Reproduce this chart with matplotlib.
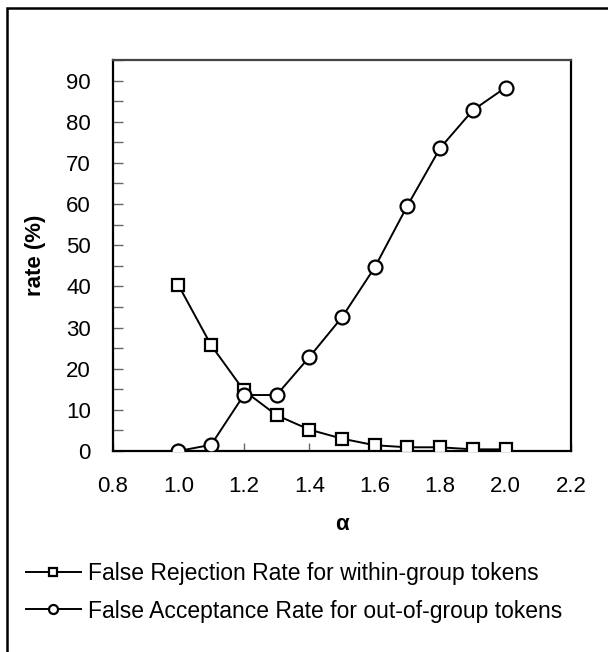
import matplotlib.pyplot as plt
from matplotlib.patches import Rectangle
from matplotlib.ticker import MultipleLocator

plt.rcParams['font.family'] = ['Liberation Sans', 'DejaVu Sans']

# Data
alpha = [1.0, 1.1, 1.2, 1.3, 1.4, 1.5, 1.6, 1.7, 1.8, 1.9, 2.0]
frr = [40.3, 25.7, 14.7, 8.7, 5.2, 3.0, 1.4, 0.9, 0.9, 0.4, 0.4]
far = [0.0, 1.5, 13.6, 13.6, 22.8, 32.5, 44.6, 59.6, 73.6, 82.8, 88.3]
labels = ['False Rejection Rate for within-group tokens',
          'False Acceptance Rate for out-of-group tokens']
xticks = [0.8, 1.0, 1.2, 1.4, 1.6, 1.8, 2.0, 2.2]

W, H = 608, 652
fig = plt.figure(figsize=(W / 100, H / 100), dpi=100)
ax = fig.add_axes([113 / W, 1 - 451 / H, (571 - 113) / W, (451 - 60) / H])

ax.plot(alpha, frr, color='black', linewidth=1.4, marker='s', markersize=9,
        markerfacecolor='white', markeredgecolor='black', markeredgewidth=1.6,
        label=labels[0], zorder=3)
ax.plot(alpha, far, color='black', linewidth=1.4, marker='o', markersize=10,
        markerfacecolor='white', markeredgecolor='black', markeredgewidth=1.6,
        label=labels[1], zorder=3)

ax.set_xlim(0.8, 2.2)
ax.set_ylim(0, 95)
ax.set_xticks(xticks)
ax.set_xticklabels([f'{v:.1f}' for v in xticks])
ax.set_yticks(range(0, 91, 10))
ax.yaxis.set_minor_locator(MultipleLocator(5))
ax.tick_params(axis='both', which='both', direction='in', labelsize=16,
               color='#666666', width=1, length=7)
ax.tick_params(axis='y', which='major', pad=16)
ax.tick_params(axis='x', which='major', pad=18, length=6)

for s in ax.spines.values():
    s.set_linewidth(1.6)
    s.set_color('black')
ax.spines['top'].set_color('#444444')

ax.set_xlabel('α', fontsize=16, fontweight='bold', labelpad=12)
ax.set_ylabel('rate (%)', fontsize=16, fontweight='bold', labelpad=14)

# legend below the plot, no frame
fig.legend(loc='upper left', bbox_to_anchor=(5 / W, 1 - 541 / H),
           frameon=False, fontsize=16.5, handlelength=2.4,
           handletextpad=0.3, markerscale=0.65, labelspacing=0.65)

# outer border of the figure (only left and top visible in the reference)
fig.patches.append(Rectangle((7 / W, -0.1), 1.2, 1 - 8 / H + 0.1,
                             transform=fig.transFigure, fill=False,
                             edgecolor='black', linewidth=1.8))

fig.savefig('out.png', dpi=100)
